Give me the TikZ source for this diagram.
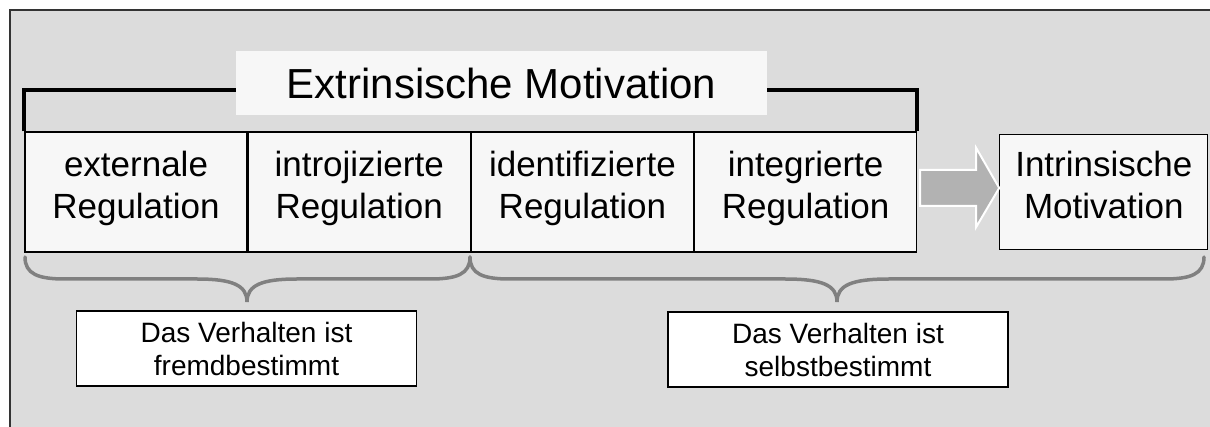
\documentclass[tikz,border=0pt]{standalone}
\usepackage{fontspec}
\setmainfont{Liberation Sans}
\usepackage{xcolor}
\usepackage{tikz}
\usetikzlibrary{positioning}
\definecolor{bggray}{HTML}{DCDCDC}
\definecolor{boxfill}{HTML}{F7F7F7}
\definecolor{bracegray}{HTML}{808080}
\definecolor{arrowgray}{HTML}{B2B2B2}

\begin{document}
\begin{tikzpicture}[
    x=1pt, y=-1pt,
    reg/.style={draw=black, line width=1.2pt, fill=boxfill, minimum width=222pt,
                minimum height=120pt, align=center, inner sep=0pt, text depth=15pt,
                font=\fontsize{35}{42}\selectfont},
    intrbox/.style={draw=black, line width=1.2pt, fill=boxfill, minimum width=208pt,
                minimum height=115pt, align=center, inner sep=0pt, text depth=15pt,
                font=\fontsize{35}{42}\selectfont},
    note/.style={draw=black, line width=1.2pt, fill=white, minimum width=340pt,
                minimum height=75pt, align=center, inner sep=0pt,
                font=\fontsize{28}{33}\selectfont},
    bracket/.style={line width=4pt},
    bracebar/.style={draw=bracegray, line width=3.5pt, line cap=round},
    pfeil/.style={draw=white, line width=2pt, fill=arrowgray, line join=miter}
]
    \useasboundingbox (0,0) rectangle (1210,427);
    \draw[fill=bggray, draw=black!80, line width=1.5pt] (10,10) rectangle (1230,450);

    \node[reg] (ext) at (136,192) {externale\\Regulation};
    \node[reg, right=0pt of ext] (intro) {introjizierte\\Regulation};
    \node[reg, right=0pt of intro] (ident) {identifizierte\\Regulation};
    \node[reg, right=0pt of ident] (integ) {integrierte\\Regulation};
    \node[intrbox, right=82pt of integ] (intr) {Intrinsische\\Motivation};

    \draw[pfeil] (integ.east) ++(3,-22) -- ++(56,0) -- ++(0,-22) -- ++(23,40)
        -- ++(-23,39) -- ++(0,-21) -- ++(-56,0) -- cycle;

    \draw[bracket] (ext.north west) -- ++(0,-41) -| (integ.north east);
    \node[fill=boxfill, minimum width=531pt, minimum height=64pt, inner sep=0pt,
          font=\fontsize{42}{50}\selectfont] (extr) at (501.5,83) {Extrinsische Motivation};

    \node[note] (fremd) at (246.5,348.5) {Das Verhalten ist\\fremdbestimmt};
    \node[note] (selbst) at (838,349.5) {Das Verhalten ist\\selbstbestimmt};

    \draw[bracebar] (25,257) .. controls (25,274) and (38,279) .. (65,279)
        -- (197,279) .. controls (232,279) and (247,285) .. (247,302)
        .. controls (247,285) and (262,279) .. (297,279)
        -- (430,279) .. controls (457,279) and (470,274) .. (470,257);
    \draw[bracebar] (470,257) .. controls (470,274) and (483,279) .. (510,279)
        -- (785,279) .. controls (822,279) and (837,285) .. (837,302)
        .. controls (837,285) and (852,279) .. (889,279)
        -- (1164,279) .. controls (1191,279) and (1204,274) .. (1204,257);
\end{tikzpicture}
\end{document}
